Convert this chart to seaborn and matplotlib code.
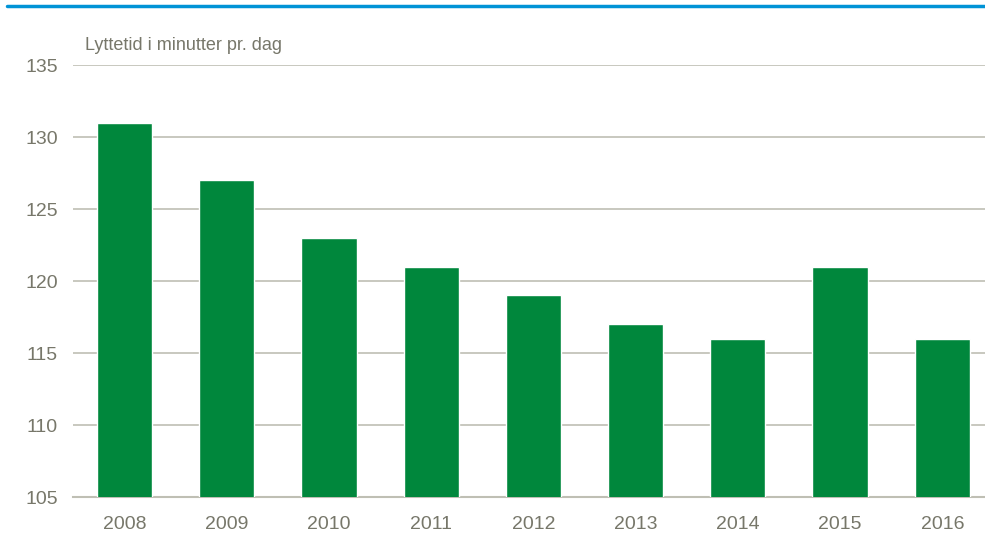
import pandas as pd
import matplotlib.pyplot as plt
import seaborn as sns
from matplotlib import font_manager
from matplotlib.lines import Line2D

years = ["2008", "2009", "2010", "2011", "2012", "2013", "2014", "2015", "2016"]
minutes = [131, 127, 123, 121, 119, 117, 116, 121, 116]
yticks = [105, 110, 115, 120, 125, 130, 135]

GREEN = "#00873c"
GRID = "#bfbfb4"
TEXT = "#77776a"

sns.set_theme(style="white")
names = {f.name for f in font_manager.fontManager.ttflist}
family = "Liberation Sans Narrow" if "Liberation Sans Narrow" in names else "Liberation Sans"
plt.rcParams["font.family"] = [family, "DejaVu Sans"]

df = pd.DataFrame({"year": years, "minutes": minutes})

fig = plt.figure(figsize=(9.85, 5.38), dpi=100)
# axes runs slightly past the right edge of the figure, as in the source
ax = fig.add_axes([73.4 / 985, 41 / 538, 920 / 985, 432 / 538])
sns.barplot(data=df, x="year", y="minutes", color=GREEN, saturation=1, width=0.54, ax=ax, zorder=3)
ax.set_ylim(105, 135)
ax.set_xlim(-0.5, 8.5)
ax.set_yticks(yticks)
ax.yaxis.grid(True, color=GRID, linewidth=1.2, zorder=0)
ax.set(xlabel="", ylabel="")
sns.despine(ax=ax, left=True, right=True, top=True, bottom=False)
ax.spines["bottom"].set_color(GRID)
ax.spines["bottom"].set_linewidth(1.5)
ax.tick_params(axis="both", length=0, labelsize=14, labelcolor=TEXT)
ax.tick_params(axis="y", pad=11)
ax.tick_params(axis="x", pad=14)

fig.text(85 / 985, 1 - 46 / 538, "Lyttetid i minutter pr. dag", fontsize=13, color=TEXT, va="center", ha="left")
fig.add_artist(Line2D([7 / 985, 1.0], [1 - 6 / 538, 1 - 6 / 538], color="#0093d6", linewidth=2.5, transform=fig.transFigure))

plt.savefig("out.png", dpi=100)
